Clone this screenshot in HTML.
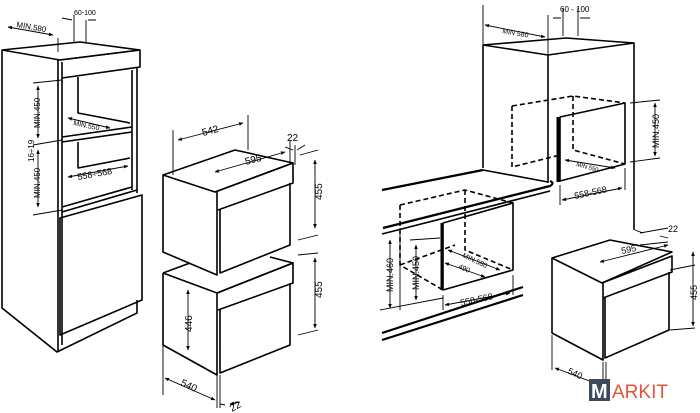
<!DOCTYPE html>
<html><head><meta charset="utf-8"><style>
html,body{margin:0;padding:0;background:#fff}
svg{display:block}
text{font-family:"Liberation Sans",sans-serif;fill:#000}
</style></head><body>
<svg width="700" height="413" viewBox="0 0 700 413" xmlns="http://www.w3.org/2000/svg">
<defs>
<marker id="a" viewBox="0 0 10 10" refX="9" refY="5" markerWidth="5" markerHeight="5" orient="auto-start-reverse"><path d="M0,1 L10,5 L0,9 z" fill="#000"/></marker>
</defs>
<g fill="none" stroke="#000" stroke-width="1.6" stroke-linejoin="round">
<path d="M2,50 L80,42 L140,50 L60,60 Z"/>
<path d="M2,50 L2,308 L57,352 L137,313 L137,300"/>
<path d="M58,60 L58,352"/>
<path d="M62,62 L62,345"/>
<path d="M60,60 L140,50 L140,67 L62,78"/>
<path d="M137,68 L137,193"/>
<path d="M132,70 L132,190"/>
<path d="M78,77 L78,113 L130,123"/>
<path d="M62,137 L132,127 M62,142 L132,132"/>
<path d="M78,142 L78,168 L130,158"/>
<path d="M62,207 L132,187"/>
<path d="M60,218 L142,195 L142,300 L60,335 Z"/>
<path d="M62,212 L137,190"/>
<path d="M163,175 L235,150 L293,163 L215,192 Z"/>
<path d="M163,175 L163,252 L217,275 L217,192"/>
<path d="M215,192 L293,163 L293,183 L218,210"/>
<path d="M220,210 L220,273 L290,245 L290,183"/>
<path d="M163,273 L190,263 M163,273 L217,293 L293,263 L270,257"/>
<path d="M163,273 L163,345 L217,375 L217,293"/>
<path d="M217,293 L293,263 L293,283 L218,310"/>
<path d="M220,310 L220,373 L290,345 L290,283"/>
<path d="M483,45 L483,168"/>
<path d="M483,45 L548,55 L634,43 L566,38 L483,45"/>
<path d="M548,55 L548,183"/>
<path d="M634,43 L634,230"/>
<path d="M382,190 L483,170" stroke-width="2.2"/>
<path d="M483,170 L548,182"/>
<path d="M383,228 L550,186 Q555,183 550,181" stroke-width="2.2"/>
<path d="M382,234 L550,191"/>
<path d="M382,333 L523,287 M382,340 L523,295" stroke-width="2.2"/>
<path d="M512,106 L573,96 L625,103 M512,106 L512,167 L560,155 M573,96 L573,150 L625,164" stroke-dasharray="5,3"/>
<path d="M560,117 L625,103 L625,164 L560,181 L560,117 Z"/>
<path d="M558,117 L558,182" stroke-width="3"/>
<path d="M400,205 L465,190 L513,203 M400,205 L400,265 L443,290 M465,190 L465,250 L513,270 M400,265 L455,245" stroke-dasharray="5,3"/>
<path d="M443,223 L513,203 L513,270 L443,290 Z"/>
<path d="M442,223 L442,290" stroke-width="3"/>
<path d="M552,258 L610,240 L672,252 L602,283 Z"/>
<path d="M552,258 L552,333 L603,360 L603,283"/>
<path d="M602,283 L672,256 L672,272 L603,298"/>
<path d="M605,298 L605,358 L669,330 L669,272"/>
</g>
<g fill="none" stroke="#000" stroke-width="0.9">
<path d="M58,38 L58,52 M74,15 L74,42 M86,20 L86,42 M173,130 L173,175 M248,115 L248,150 M290,140 L290,162 M295,145 L295,165 M300,155 L318,150 M298,240 L318,235 M298,255 L318,253 M298,335 L318,330 M163,345 L163,395 M217,375 L217,408 M220,375 L220,408"/>
<path d="M33,83 L62,80 M33,145 L62,140 M33,215 L62,210"/>
<path d="M483,5 L483,45 M548,15 L548,55 M563,8 L563,36 M578,8 L578,36 M630,103 L660,100 M630,162 L660,158 M560,185 L560,205 M625,168 L625,190 M400,228 L400,310 M443,295 L443,310 M513,275 L513,295 M380,310 L443,298 M410,240 L440,238 M640,233 L668,228 M640,245 L668,242 M670,270 L695,265 M670,330 L695,328 M552,335 L552,370 M603,362 L603,395 M606,362 L606,395"/>
<g marker-start="url(#a)" marker-end="url(#a)">
<path d="M8,27 L53,35"/>
<path d="M38,86 L38,138"/>
<path d="M38,150 L38,207"/>
<path d="M68,118 L110,128"/>
<path d="M68,177 L128,166"/>
<path d="M178,140 L243,123"/>
<path d="M215,172 L285,152"/>
<path d="M315,160 L315,228"/>
<path d="M315,258 L315,328"/>
<path d="M188,290 L188,350"/>
<path d="M165,378 L215,400"/>
<path d="M485,25 L545,37"/>
<path d="M655,103 L655,156"/>
<path d="M565,160 L615,168"/>
<path d="M562,200 L622,188"/>
<path d="M390,240 L390,308"/>
<path d="M416,245 L416,300"/>
<path d="M448,250 L500,270"/>
<path d="M445,263 L485,277"/>
<path d="M445,305 L510,293"/>
<path d="M600,262 L668,245"/>
<path d="M693,252 L693,326"/>
<path d="M555,368 L600,385"/>
</g>
<path d="M62,18 L72,20 M96,20 L88,20 M553,18 L561,18 M590,18 L580,18 M285,147 L293,150 M305,145 L297,150 M635,230 L643,233 M668,238 L660,236 M225,405 L220,404 M240,402 L230,404" marker-end="url(#a)"/>
</g>
<g font-size="9">
<text x="16" y="27" transform="rotate(10 16 27)" font-size="8">MIN.580</text>
<text x="74" y="15" font-size="7">60-100</text>
<text transform="translate(40,128) rotate(-90)" font-size="8">MIN.450</text>
<text transform="translate(34,162) rotate(-90)" font-size="8">16÷19</text>
<text transform="translate(40,198) rotate(-90)" font-size="8">MIN.450</text>
<text x="73" y="125" transform="rotate(12 73 125)" font-size="7">MIN.550</text>
<text x="78" y="180" transform="rotate(-10 78 180)">558÷568</text>
<text x="203" y="136" transform="rotate(-15 203 136)" font-size="10">542</text>
<text x="246" y="165" transform="rotate(-15 246 165)" font-size="10">595</text>
<text x="287" y="141" font-size="10">22</text>
<text transform="translate(322,200) rotate(-90)" font-size="10">455</text>
<text transform="translate(322,298) rotate(-90)" font-size="10">455</text>
<text transform="translate(192,332) rotate(-90)" font-size="10">446</text>
<text x="180" y="385" transform="rotate(25 180 385)" font-size="10">540</text>
<text x="232" y="412" transform="rotate(-30 232 412)" font-size="10">22</text>
<text x="502" y="33" transform="rotate(10 502 33)" font-size="7">MIN 580</text>
<text x="560" y="12" font-size="8">60 - 100</text>
<text transform="translate(659,148) rotate(-90)" font-size="9">MIN.450</text>
<text x="576" y="166" transform="rotate(15 576 166)" font-size="6">MIN 550</text>
<text x="575" y="199" transform="rotate(-12 575 199)">558-568</text>
<text transform="translate(393,292) rotate(-90)" font-size="9">MIN.460</text>
<text transform="translate(419,290) rotate(-90)" font-size="9">MIN.450</text>
<text x="462" y="257" transform="rotate(25 462 257)" font-size="7">MIN.580</text>
<text x="458" y="268" transform="rotate(25 458 268)" font-size="7">490</text>
<text x="461" y="306" transform="rotate(-12 461 306)">558-568</text>
<text x="622" y="254" transform="rotate(-12 622 254)">595</text>
<text x="668" y="232" font-size="9">22</text>
<text transform="translate(697,300) rotate(-90)" font-size="9">455</text>
<text x="567" y="373" transform="rotate(25 567 373)">540</text>
</g>
<rect x="589" y="379" width="21" height="22" fill="#3e4a5a"/>
<text x="591" y="398" font-size="20" font-weight="bold" style="fill:#fff">M</text>
<text x="612" y="398" font-size="19" style="fill:#e5533d">ARKIT</text>
</svg>
</body></html>
